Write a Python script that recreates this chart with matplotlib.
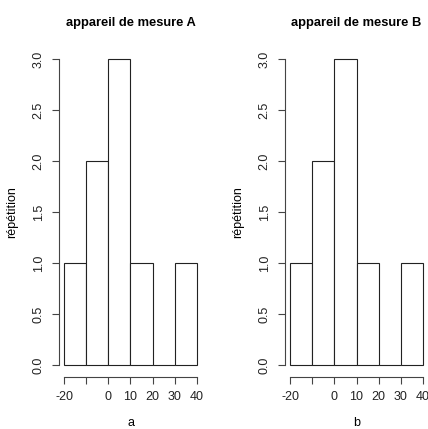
import matplotlib.pyplot as plt

plt.rcParams['font.family'] = ['Liberation Sans', 'DejaVu Sans']

# classes de l'histogramme et effectifs
bornes = [-20, -10, 0, 10, 20, 30, 40]
effectifs_a = [1, 2, 3, 1, 0, 1]
effectifs_b = [1, 2, 3, 1, 0, 1]
titres = ['appareil de mesure A', 'appareil de mesure B']
noms_x = ['a', 'b']
xticks = [-20, -10, 0, 10, 20, 30, 40]
xtick_labels = ['-20', '', '0', '10', '20', '30', '40']
yticks = [0.0, 0.5, 1.0, 1.5, 2.0, 2.5, 3.0]

W, H = 428, 429
fig = plt.figure(figsize=(W / 100, H / 100), dpi=100)

gauches = [58.7, 284.7]
for gauche, eff, titre, nom in zip(gauches, [effectifs_a, effectifs_b], titres, noms_x):
    ax = fig.add_axes([gauche / W, (H - 377.2) / H, 143.6 / W, 330.4 / H])
    largeurs = [b - a for a, b in zip(bornes[:-1], bornes[1:])]
    ax.bar(bornes[:-1], eff, width=largeurs, align='edge',
           facecolor='white', edgecolor='#222222', linewidth=0.8)

    # marges de 4 % comme dans R
    ax.set_xlim(-20 - 2.4, 40 + 2.4)
    ax.set_ylim(-0.12, 3.12)

    for s in ['top', 'right']:
        ax.spines[s].set_visible(False)
    ax.spines['left'].set_bounds(0, 3)
    ax.spines['bottom'].set_bounds(-20, 40)
    for s in ['left', 'bottom']:
        ax.spines[s].set_color('#444444')
        ax.spines[s].set_linewidth(0.8)

    ax.set_xticks(xticks)
    ax.set_xticklabels(xtick_labels)
    ax.set_yticks(yticks)
    ax.set_yticklabels([f'{v:.1f}' for v in yticks], rotation=90, va='center')
    ax.tick_params(length=5, width=0.8, color='#444444', labelsize=9,
                   labelcolor='#222222', pad=5)

    ax.set_title(titre, fontsize=9.3, fontweight='bold', pad=15)
    ax.text(-0.325, 0.5, 'répétition', rotation=90, ha='center', va='center',
            fontsize=9, transform=ax.transAxes)
    ax.text(0.5, -0.14, nom, ha='center', va='center', fontsize=9,
            transform=ax.transAxes)

fig.savefig('out.png', dpi=100)
